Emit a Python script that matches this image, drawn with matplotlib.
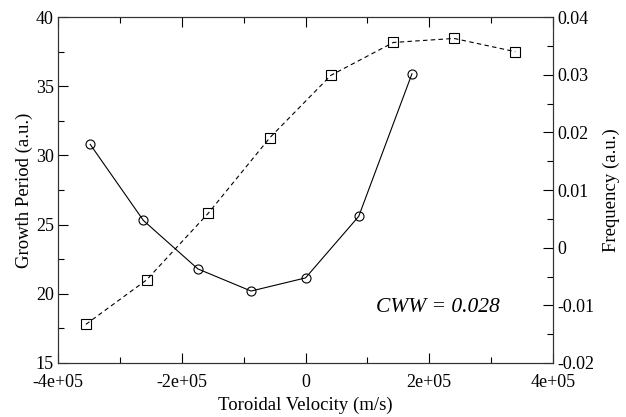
import matplotlib
matplotlib.use("Agg")
import matplotlib.pyplot as plt
from matplotlib.ticker import MultipleLocator, FuncFormatter

plt.rcParams['font.family'] = ['Liberation Serif', 'DejaVu Serif']
plt.rcParams['font.size'] = 13

# growth period (left axis, circles)
vel_gp = [-3.48e5, -2.62e5, -1.74e5, -0.88e5, 0.0, 0.86e5, 1.72e5]
growth = [30.8, 25.3, 21.8, 20.2, 21.15, 25.6, 35.9]

# frequency (right axis, squares)
vel_fr = [-3.55e5, -2.57e5, -1.57e5, -0.575e5, 0.41e5, 1.42e5, 2.4e5, 3.39e5]
freq = [-0.0133, -0.0056, 0.006, 0.0191, 0.0299, 0.0356, 0.0363, 0.034]

fig = plt.figure(figsize=(6.26, 4.17), dpi=100)
ax = fig.add_axes([0.0927, 0.1295, 0.7907, 0.8295])
ax2 = ax.twinx()

ax.plot(vel_gp, growth, color='black', lw=0.8, marker='o', ms=6.5,
        mfc='none', mec='black', mew=0.8)
ax2.plot(vel_fr, freq, color='black', lw=0.8, ls=(0, (4, 3)), marker='s', ms=7,
         mfc='none', mec='black', mew=0.8)

ax.set_xlim(-4e5, 4e5)
ax.set_ylim(15, 40)
ax2.set_ylim(-0.02, 0.04)

ax.xaxis.set_major_locator(MultipleLocator(2e5))
ax.xaxis.set_minor_locator(MultipleLocator(1e5))
ax.yaxis.set_major_locator(MultipleLocator(5))
ax.yaxis.set_minor_locator(MultipleLocator(2.5))
ax2.yaxis.set_major_locator(MultipleLocator(0.01))
ax2.yaxis.set_minor_locator(MultipleLocator(0.005))

ax.xaxis.set_major_formatter(FuncFormatter(lambda v, p: '0' if abs(v) < 1 else '%.0e' % v))
ax2.yaxis.set_major_formatter(FuncFormatter(lambda v, p: '0' if abs(v) < 1e-9 else '%g' % round(v, 3)))

ax.tick_params(which='both', direction='in', top=True, right=False, width=0.8)
ax.tick_params(which='major', length=7)
ax.tick_params(which='minor', length=4)
ax.tick_params(axis='x', which='major', pad=8)
ax.tick_params(axis='y', which='major', pad=3)
ax2.tick_params(which='both', direction='in', width=0.8)
ax2.tick_params(which='major', length=7, pad=3)
ax2.tick_params(which='minor', length=4)

for a in (ax, ax2):
    for s in a.spines.values():
        s.set_linewidth(0.8)
        s.set_color('#333333')

ax.set_xlabel('Toroidal Velocity (m/s)', fontsize=13.5, labelpad=4)
ax.set_ylabel('Growth Period (a.u.)', fontsize=13.5, labelpad=2)
ax2.set_ylabel('Frequency (a.u.)', fontsize=13.5, labelpad=6)

ax.text(2.14e5, 19, 'CWW = 0.028', style='italic', fontsize=15.5,
        ha='center', va='center')

fig.savefig('out.png', dpi=100)
